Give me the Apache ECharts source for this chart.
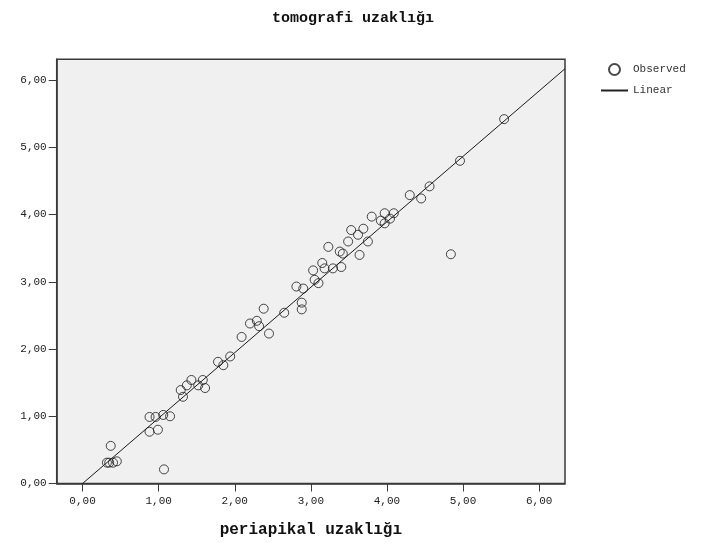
<!DOCTYPE html>
<html>
<head>
<meta charset="utf-8">
<script src="https://cdn.jsdelivr.net/npm/echarts@6/dist/echarts.min.js"></script>
<style>
  html, body { margin: 0; padding: 0; background: #fff; }
  #chart { width: 706px; height: 550px; }
</style>
</head>
<body>
<div id="chart"></div>
<script>
// Measured distances: periapical (x) vs tomographic (y)
const periapikal = [
  0.32, 0.35, 0.40, 0.37, 0.45, 1.07, 0.88, 0.96, 0.88, 0.99,
  1.06, 1.15, 1.29, 1.32, 1.43, 1.37, 1.52, 1.61, 1.58, 1.78,
  1.85, 1.94, 2.09, 2.20, 2.29, 2.32, 2.45, 2.38, 2.65, 2.88,
  2.88, 2.81, 2.90, 3.05, 3.03, 3.10, 3.15, 3.18, 3.23, 3.29,
  3.40, 3.38, 3.42, 3.49, 3.53, 3.62, 3.64, 3.69, 3.75, 3.80,
  3.92, 3.97, 3.97, 4.04, 4.09, 4.30, 4.45, 4.56, 4.96, 5.54,
  4.84
];
const tomografi = [
  0.31, 0.31, 0.31, 0.56, 0.33, 0.21, 0.99, 0.99, 0.77, 0.80,
  1.02, 1.00, 1.39, 1.29, 1.54, 1.46, 1.46, 1.42, 1.54, 1.81,
  1.76, 1.89, 2.18, 2.38, 2.42, 2.34, 2.23, 2.60, 2.54, 2.69,
  2.59, 2.93, 2.90, 3.03, 3.17, 2.98, 3.28, 3.20, 3.52, 3.20,
  3.22, 3.45, 3.42, 3.60, 3.77, 3.70, 3.40, 3.79, 3.60, 3.97,
  3.91, 4.02, 3.87, 3.94, 4.02, 4.29, 4.24, 4.42, 4.80, 5.42,
  3.41
];

// Fitted linear line, given by its two end points
const fitX = [0.00, 6.34];
const fitY = [0.00, 6.17];

// Axis ticks and their labels
const tickValues = [0, 1, 2, 3, 4, 5, 6];
const tickLabels = ['0,00', '1,00', '2,00', '3,00', '4,00', '5,00', '6,00'];

const observed = periapikal.map((x, i) => [x, tomografi[i]]);
const fitted = fitX.map((x, i) => [x, fitY[i]]);

const FONT = 'Liberation Mono';
const labelOf = v => {
  const i = tickValues.indexOf(Math.round(v));
  return i >= 0 ? tickLabels[i] : '';
};

const axisCommon = {
  type: 'value',
  splitLine: { show: false },
  axisLine: { show: true, onZero: false, lineStyle: { color: '#3a3a3a', width: 1.5 } },
  axisTick: { show: true, length: 8, customValues: tickValues, lineStyle: { color: '#3a3a3a', width: 1 } },
  axisLabel: {
    customValues: tickValues,
    formatter: labelOf,
    fontFamily: FONT,
    fontSize: 11,
    color: '#222'
  }
};

const chart = echarts.init(document.getElementById('chart'), null, { renderer: 'canvas' });
chart.setOption({
  animation: false,
  backgroundColor: '#ffffff',
  title: {
    text: 'tomografi uzaklığı',
    left: 'center',
    top: 6,
    textStyle: { fontFamily: FONT, fontWeight: 'bold', fontSize: 15, color: '#111' }
  },
  legend: {
    orient: 'vertical',
    left: 601,
    top: 63,
    padding: 0,
    itemWidth: 27,
    itemHeight: 11,
    itemGap: 9,
    textStyle: { fontFamily: FONT, fontSize: 11, color: '#333' },
    data: [
      { name: 'Observed', icon: 'circle' },
      {
        name: 'Linear',
        icon: 'path://M0,0 H27 V2 H0 Z',
        itemStyle: { color: '#222' },
        lineStyle: { width: 2, color: '#222' }
      }
    ]
  },
  grid: {
    left: 56.7,
    right: 141,
    top: 59.3,
    bottom: 66.5,
    show: true,
    backgroundColor: '#f0f0f0',
    borderColor: '#3a3a3a',
    borderWidth: 1.5
  },
  xAxis: Object.assign({}, axisCommon, {
    min: -0.34,
    max: 6.34,
    name: 'periapikal uzaklığı',
    nameLocation: 'middle',
    nameGap: 38,
    nameTextStyle: { fontFamily: FONT, fontWeight: 'bold', fontSize: 16, color: '#111' },
    axisLabel: Object.assign({}, axisCommon.axisLabel, { margin: 12 })
  }),
  yAxis: Object.assign({}, axisCommon, {
    min: 0,
    max: 6.31,
    axisLabel: Object.assign({}, axisCommon.axisLabel, { margin: 10 })
  }),
  series: [
    {
      name: 'Observed',
      type: 'scatter',
      symbol: 'circle',
      symbolSize: 9,
      data: observed,
      itemStyle: { color: 'rgba(0,0,0,0)', borderColor: '#1a1a1a', borderWidth: 1 },
      z: 3
    },
    {
      name: 'Linear',
      type: 'line',
      symbol: 'none',
      data: fitted,
      itemStyle: { color: '#1a1a1a' },
      lineStyle: { color: '#1a1a1a', width: 1 },
      clip: true,
      z: 4
    }
  ]
});
</script>
</body>
</html>
